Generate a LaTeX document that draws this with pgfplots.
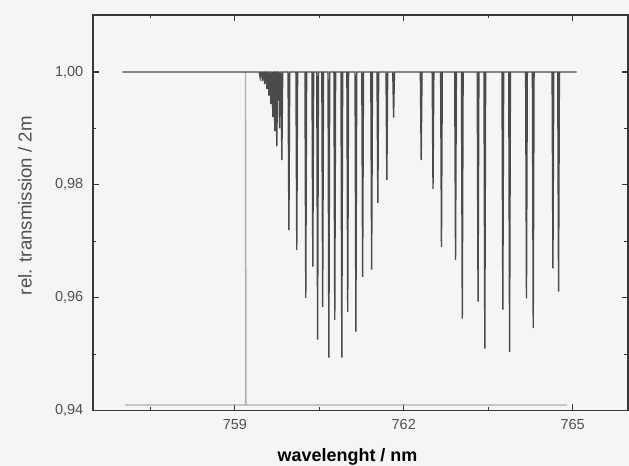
\documentclass[border=0pt]{standalone}
\usepackage{fontspec}
\setmainfont{Liberation Sans}
\usepackage{pgfplots}
\usepackage{pgfplotstable}
\pgfplotsset{compat=1.18}

\definecolor{spec}{RGB}{75,75,75}
\definecolor{refl}{RGB}{175,175,175}
\definecolor{bg}{RGB}{245,245,245}
\definecolor{frame}{RGB}{55,55,55}
\definecolor{lbl}{RGB}{80,80,80}

% O2 A-band, relative transmission (line centres and minima)
\pgfplotstableread{
x        y
757.000  1.0000
759.435  1.0000
759.450  0.9990
759.465  1.0000
759.475  1.0000
759.490  0.9984
759.505  1.0000
759.515  1.0000
759.530  0.9978
759.545  1.0000
759.555  1.0000
759.570  0.9970
759.585  1.0000
759.590  1.0000
759.605  0.9958
759.620  1.0000
759.625  1.0000
759.640  0.9943
759.655  1.0000
759.660  1.0000
759.675  0.9920
759.690  1.0000
759.695  1.0000
759.710  0.9895
759.725  1.0000
759.730  1.0000
759.745  0.9868
759.760  1.0000
759.780  1.0000
759.795  0.9900
759.810  1.0000
759.820  1.0000
759.835  0.9844
759.850  1.0000
759.945  1.0000
759.960  0.9720
759.975  1.0000
760.085  1.0000
760.100  0.9685
760.115  1.0000
760.245  1.0000
760.260  0.9600
760.275  1.0000
760.370  1.0000
760.385  0.9655
760.400  1.0000
760.455  1.0000
760.470  0.9526
760.485  1.0000
760.545  1.0000
760.560  0.9584
760.575  1.0000
760.655  1.0000
760.670  0.9494
760.685  1.0000
760.760  1.0000
760.775  0.9561
760.790  1.0000
760.885  1.0000
760.900  0.9494
760.915  1.0000
760.990  1.0000
761.005  0.9575
761.020  1.0000
761.135  1.0000
761.150  0.9540
761.165  1.0000
761.255  1.0000
761.270  0.9637
761.285  1.0000
761.415  1.0000
761.430  0.9650
761.445  1.0000
761.525  1.0000
761.540  0.9768
761.555  1.0000
761.685  1.0000
761.700  0.9809
761.715  1.0000
761.805  1.0000
761.820  0.9919
761.835  1.0000
762.295  1.0000
762.310  0.9844
762.325  1.0000
762.505  1.0000
762.520  0.9793
762.535  1.0000
762.655  1.0000
762.670  0.9690
762.685  1.0000
762.905  1.0000
762.920  0.9667
762.935  1.0000
763.025  1.0000
763.040  0.9563
763.055  1.0000
763.305  1.0000
763.320  0.9593
763.335  1.0000
763.425  1.0000
763.440  0.9510
763.455  1.0000
763.745  1.0000
763.760  0.9579
763.775  1.0000
763.865  1.0000
763.880  0.9504
763.895  1.0000
764.165  1.0000
764.180  0.9599
764.195  1.0000
764.285  1.0000
764.300  0.9546
764.315  1.0000
764.635  1.0000
764.650  0.9652
764.665  1.0000
764.735  1.0000
764.750  0.9611
764.765  1.0000
765.070  1.0000
}\spectrum

\pgfplotstableread{
x        y
757.050  0.9410
759.190  0.9410
759.190  1.0000
759.200  0.9410
764.900  0.9410
}\reference

\begin{document}
\begin{tikzpicture}
\path[use as bounding box, fill=bg] (-2.366cm,-1.399cm) rectangle (13.64cm,10.45cm);
\begin{axis}[
  scale only axis,
  width=13.61cm, height=10.07cm,
  xmin=756.48, xmax=765.98,
  ymin=0.94, ymax=1.0101,
  xtick={759,762,765},
  minor xtick={757.5,760.5,763.5},
  ytick={0.94,0.96,0.98,1.00},
  minor ytick={0.95,0.97,0.99},
  tick align=inside,
  major tick length=4.5pt, minor tick length=2.5pt,
  axis line style={frame, line width=1.2pt},
  tick style={frame, line width=0.9pt},
  /pgf/number format/assume math mode=true,
  xticklabel style={/pgf/number format/fixed, /pgf/number format/precision=0,
    /pgf/number format/1000 sep={}, yshift=-3pt},
  yticklabel style={/pgf/number format/fixed, /pgf/number format/fixed zerofill,
    /pgf/number format/precision=2, /pgf/number format/use comma, xshift=-3.5pt},
  tick label style={font=\fontsize{10.5}{12}\selectfont, text=lbl},
  xlabel={wavelenght / nm},
  xlabel style={font=\fontsize{13}{15}\selectfont\bfseries, text=black,
    at={(axis description cs:0.476,-0.116)}, anchor=center},
  ylabel={rel. transmission / 2m},
  ylabel style={font=\fontsize{13.5}{16}\selectfont, text=lbl,
    at={(axis description cs:-0.127,0.518)}, anchor=center},
  axis background/.style={fill=bg},
]
\addplot[refl, line width=0.9pt] table[x=x, y=y] {\reference};
\addplot[spec, line width=1pt, line join=miter] table[x=x, y=y] {\spectrum};
\end{axis}
\end{tikzpicture}
\end{document}
